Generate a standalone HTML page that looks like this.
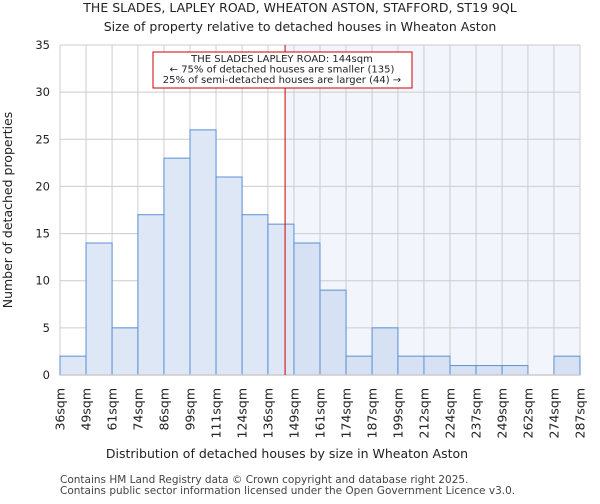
<!DOCTYPE html>
<html><head><meta charset="utf-8"><style>
body{margin:0;background:#fff;font-family:"DejaVu Sans","Liberation Sans",sans-serif}
</style></head><body>
<svg id="chart" width="600" height="500" xmlns="http://www.w3.org/2000/svg" font-family="DejaVu Sans, Liberation Sans, sans-serif">
<text x="300" y="12" text-anchor="middle" font-size="12.5" fill="#222">THE SLADES, LAPLEY ROAD, WHEATON ASTON, STAFFORD, ST19 9QL</text>
<text x="300" y="31" text-anchor="middle" font-size="12.5" fill="#222">Size of property relative to detached houses in Wheaton Aston</text>
<g id="plot"></g>
<text x="287" y="458" text-anchor="middle" font-size="12.5" fill="#222">Distribution of detached houses by size in Wheaton Aston</text>
<text transform="translate(12,210) rotate(-90)" text-anchor="middle" font-size="12.5" fill="#222">Number of detached properties</text>
<text x="60" y="483" font-size="10.5" fill="#444">Contains HM Land Registry data © Crown copyright and database right 2025.</text>
<text x="60" y="494" font-size="10.5" fill="#444">Contains public sector information licensed under the Open Government Licence v3.0.</text>
</svg>
<script>
const binLabels=["36sqm","49sqm","61sqm","74sqm","86sqm","99sqm","111sqm","124sqm","136sqm","149sqm","161sqm","174sqm","187sqm","199sqm","212sqm","224sqm","237sqm","249sqm","262sqm","274sqm","287sqm"];
const binEdges=[36,48.6,61.2,73.7,86.3,98.9,111.5,124.1,136.6,149.2,161.8,174.4,187,199.5,212.1,224.7,237.3,249.9,262.4,275,287.6];
const counts=[2,14,5,17,23,26,21,17,16,14,9,2,5,2,2,1,1,1,0,2];
const yTicks=[0,5,10,15,20,25,30,35];
const propertySize=144.9;
const NS="http://www.w3.org/2000/svg";
const X0=60,X1=580,Y0=375,Y1=45,YMAX=35;
const xs=v=>X0+(v-binEdges[0])/(binEdges[binEdges.length-1]-binEdges[0])*(X1-X0);
const ys=v=>Y0-v/YMAX*(Y0-Y1);
const g=document.getElementById('plot');
function mk(t,a){const e=document.createElementNS(NS,t);for(const k in a)e.setAttribute(k,a[k]);g.appendChild(e);return e;}
const px=xs(propertySize);
let e=mk('rect',{x:px,y:Y1,width:X1-px,height:Y0-Y1,fill:'#f2f5fc'});


yTicks.forEach(t=>{
 let l=mk('line',{x1:X0,x2:X1,y1:ys(t),y2:ys(t),stroke:'#ccc','stroke-width':1});
 
 
 let tx=mk('text',{x:X0-10,y:ys(t)+4,'text-anchor':'end','font-size':11.5,fill:'#222'});
 tx.textContent=t;
 
 
});
binEdges.forEach((b,i)=>{
 let l=mk('line',{x1:xs(b),x2:xs(b),y1:Y1,y2:Y0,stroke:'#ccc','stroke-width':1});
 
 
 let tx=mk('text',{transform:`translate(${xs(b)+4.5},388) rotate(-90)`,'text-anchor':'end','font-size':12.5,fill:'#222'});
 tx.textContent=binLabels[i];
 
 
});
counts.forEach((c,i)=>{
 if(c<=0)return;
 const x=xs(binEdges[i]),w=xs(binEdges[i+1])-x;
 let r=mk('rect',{x:x,y:ys(c),width:w,height:Y0-ys(c),fill:binEdges[i]>=propertySize?'#d6e2f3':'#dde7f5',stroke:'#5b8fd6','stroke-width':1});
 
 
});
e=mk('line',{x1:X0,x2:X1,y1:Y0,y2:Y0,stroke:'#ccc','stroke-width':1.5});


e=mk('line',{x1:px,x2:px,y1:Y1,y2:Y0,stroke:'#cc0000','stroke-width':1});


e=mk('rect',{x:153,y:52,width:259,height:36,fill:'#fff',stroke:'#cc0000','stroke-width':1});


["THE SLADES LAPLEY ROAD: 144sqm","← 75% of detached houses are smaller (135)","25% of semi-detached houses are larger (44) →"].forEach((s,i)=>{
 let tx=mk('text',{x:282,y:62+i*10.5,'text-anchor':'middle','font-size':10,fill:'#222'});
 tx.textContent=s;
 
 
});
</script>
</body></html>
